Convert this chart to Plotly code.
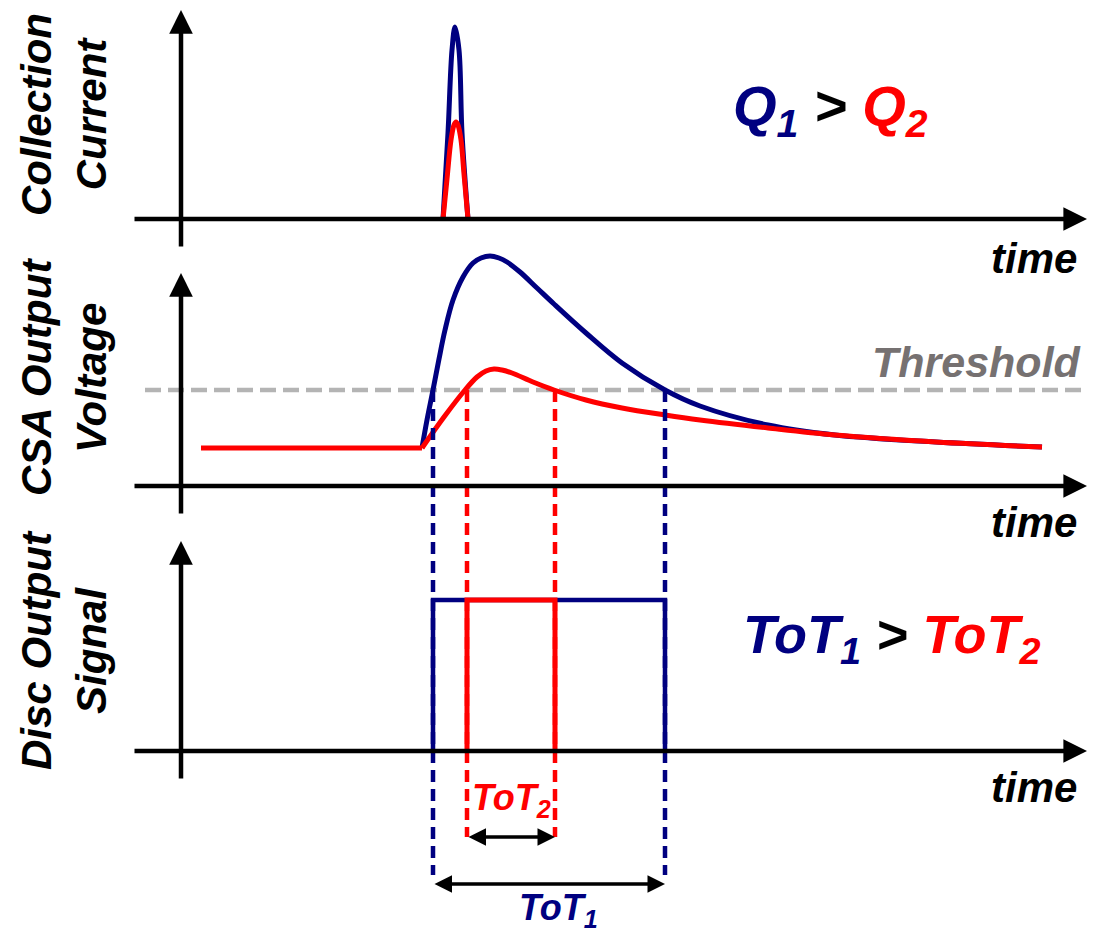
import plotly.graph_objects as go

W, H = 1104, 933
NAVY = "#000080"
RED = "#ff0000"
GRAY_LINE = "#b4b4b4"
GRAY_TEXT = "#767171"
FONT = "Liberation Sans, Arial, sans-serif"

# ---------------- signal samples (time in arbitrary units) ----------------
# collection current pulses (height above the time axis)
pulse_t_q1 = [443, 448, 452, 455, 459, 462, 468]
current_q1 = [0, 86, 169, 192, 169, 86, 0]
pulse_t_q2 = [443, 447, 451, 454, 456, 458, 461, 464, 468]
current_q2 = [0, 40, 79, 94, 97, 94, 79, 45, 0]

# CSA output voltage: flat baseline then shaped pulse
baseline_t = [201, 422]
baseline_v = [38, 38]
csa_t_q1 = [422, 427, 433, 439, 445, 453, 463, 473, 481, 490, 499, 507, 520, 537,
            554, 586, 622, 665, 700, 768, 835, 936, 1042]
csa_v_q1 = [38, 66, 96, 127, 156, 186, 209, 223, 228, 230, 228, 224, 214, 198,
            182, 153, 123, 96, 80, 61, 51, 44, 39]
csa_t_q2 = [422, 444, 465, 477, 486, 494, 502, 512, 533, 554, 586, 622, 665, 700,
            768, 835, 936, 1042]
csa_v_q2 = [38, 69, 96, 109, 115, 117, 116, 113, 104, 96, 86, 78, 71, 66,
            58, 51, 44, 39]

threshold = 96
threshold_t = [145, 1087]

# threshold crossings (leading, trailing edge) -> discriminator output
cross_q1 = [433, 665]
cross_q2 = [467, 555]
disc_high = 151

# ---------------- geometry of the three panels ----------------
panel_base = {"y": 219, "y2": 486, "y3": 751}   # pixel row of each time axis
axis_left, axis_right = 133, 1087
vaxis_t = 181
vaxis_top = {"y": 209, "y2": 213, "y3": 210}
vaxis_bottom = -29
drop_q1 = -124   # lower end of the dashed markers (panel 3 units)
drop_q2 = -86
tot1_y = -133
tot2_y = -86

fig = go.Figure()


def line(x, y, axis, color, width, dash=None, shape="linear"):
    fig.add_trace(go.Scatter(
        x=x, y=y, yaxis=axis, mode="lines", hoverinfo="skip", showlegend=False,
        line=dict(color=color, width=width, dash=dash, shape=shape,
                  smoothing=1.0 if shape == "spline" else None)))


# threshold (behind everything in panel 2)
line(threshold_t, [threshold, threshold], "y2", GRAY_LINE, 4.5, dash="16px,7px")

# dashed markers from threshold crossings down through the discriminator panel
thr3 = threshold + panel_base["y3"] - panel_base["y2"]  # threshold in panel-3 units
for t in cross_q1:
    line([t, t], [thr3, drop_q1], "y3", NAVY, 4.5, dash="12px,7px")
for t in cross_q2:
    line([t, t], [thr3, drop_q2], "y3", RED, 4.5, dash="12px,7px")

# collection current
line(pulse_t_q1, current_q1, "y", NAVY, 5, shape="spline")
line(pulse_t_q2, current_q2, "y", RED, 5, shape="spline")

# CSA output
line(csa_t_q1, csa_v_q1, "y2", NAVY, 5, shape="spline")
line(baseline_t, baseline_v, "y2", RED, 5)
line(csa_t_q2, csa_v_q2, "y2", RED, 5, shape="spline")

# discriminator output
line([cross_q1[0], cross_q1[0], cross_q1[1], cross_q1[1]], [0, disc_high, disc_high, 0], "y3", NAVY, 4.5)
line([cross_q2[0], cross_q2[0], cross_q2[1], cross_q2[1]], [0, disc_high, disc_high, 0], "y3", RED, 5)

annotations = []


def arrow(x, y, ax, ay, axis, width=4.5, size=1.05, both=False):
    annotations.append(dict(
        x=x, y=y, ax=ax, ay=ay, xref="x", yref=axis, axref="x", ayref=axis,
        text="", showarrow=True, arrowhead=2, arrowsize=size, arrowwidth=width,
        arrowcolor="black", arrowside="end+start" if both else "end"))


for ax_name in ("y", "y2", "y3"):
    arrow(axis_right, 0, axis_left, 0, ax_name)
    arrow(vaxis_t, vaxis_top[ax_name], vaxis_t, vaxis_bottom, ax_name)

arrow(cross_q2[1], tot2_y, cross_q2[0], tot2_y, "y3", width=3.5, size=1.0, both=True)
arrow(cross_q1[1], tot1_y, cross_q1[0], tot1_y, "y3", width=3.5, size=1.0, both=True)


def text(px, py, s, size, color="black", xanchor="center", angle=0):
    annotations.append(dict(
        x=px / W, y=1 - py / H, xref="paper", yref="paper", text=s,
        showarrow=False, xanchor=xanchor, yanchor="middle", textangle=angle,
        font=dict(family=FONT, size=size, color=color)))


def bi(s):
    return f"<b><i>{s}</i></b>"


# axis titles
text(64, 115, bi("Collection<br>Current"), 42, angle=-90)
text(64, 377, bi("CSA Output<br>Voltage"), 42, angle=-90)
text(64, 650, bi("Disc Output<br>Signal"), 42, angle=-90)

for py in (259, 522, 787):
    text(1079, py, bi("time"), 42, xanchor="right")

text(1083, 362, bi("Threshold"), 43, color=GRAY_TEXT, xanchor="right")

text(830, 110, bi(f"<span style='color:{NAVY}'>Q<sub>1</sub></span> "
                  f"<span style='color:black'>&gt;</span> "
                  f"<span style='color:{RED}'>Q<sub>2</sub></span>"), 56)
text(892, 638, bi(f"<span style='color:{NAVY}'>ToT<sub>1</sub></span> "
                  f"<span style='color:black'>&gt;</span> "
                  f"<span style='color:{RED}'>ToT<sub>2</sub></span>"), 54)

text(511, 800, bi("ToT<sub>2</sub>"), 36, color=RED)
text(558, 910, bi("ToT<sub>1</sub>"), 36, color=NAVY)

layout_axes = {}
for i, name in enumerate(("yaxis", "yaxis2", "yaxis3")):
    key = "y" if i == 0 else f"y{i + 1}"
    base = panel_base[key]
    ax = dict(range=[base - H, base], domain=[0, 1], visible=False, fixedrange=True)
    if i:
        ax["overlaying"] = "y"
    layout_axes[name] = ax

fig.update_layout(
    width=W, height=H, margin=dict(l=0, r=0, t=0, b=0),
    paper_bgcolor="white", plot_bgcolor="white",
    xaxis=dict(range=[0, W], domain=[0, 1], visible=False, fixedrange=True),
    annotations=annotations, showlegend=False,
    **layout_axes,
)

fig.write_html("out.html", config={"displayModeBar": False})
